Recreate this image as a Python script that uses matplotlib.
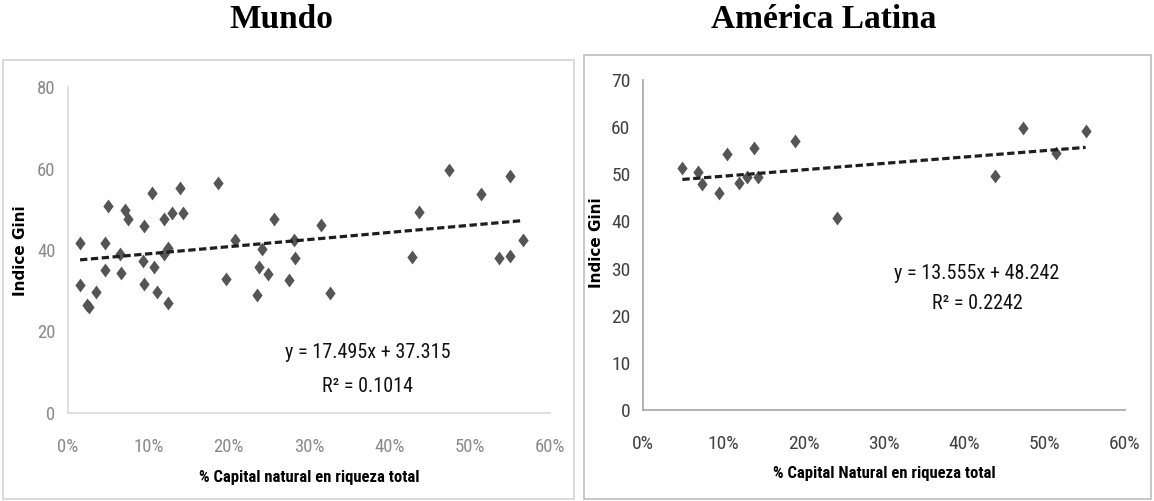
import numpy as np
import matplotlib
matplotlib.use("Agg")
import matplotlib.pyplot as plt
from matplotlib.patches import Rectangle
from matplotlib.ticker import FuncFormatter

# Mundo: share of natural capital in total wealth (fraction) vs Gini index
mundo_x = [0.015, 0.015, 0.024, 0.026, 0.035, 0.046, 0.046, 0.050, 0.065, 0.066,
           0.071, 0.075, 0.093, 0.095, 0.095, 0.105, 0.107, 0.111, 0.119, 0.119,
           0.125, 0.125, 0.129, 0.139, 0.143, 0.187, 0.197, 0.208, 0.235, 0.238,
           0.241, 0.249, 0.256, 0.275, 0.281, 0.283, 0.315, 0.326, 0.428, 0.437,
           0.474, 0.514, 0.536, 0.550, 0.550, 0.566]
mundo_y = [41.8, 31.4, 26.5, 25.9, 29.8, 41.8, 35.2, 50.8, 39.0, 34.4,
           49.8, 47.6, 37.3, 46.0, 31.7, 53.9, 35.8, 29.8, 47.5, 38.9,
           40.4, 27.0, 49.2, 55.1, 49.0, 56.5, 33.0, 42.5, 29.0, 35.9,
           40.2, 34.0, 47.5, 32.7, 42.5, 38.0, 46.1, 29.5, 38.2, 49.4,
           59.6, 53.7, 38.0, 58.2, 38.5, 42.5]
mundo_fit = (17.495, 37.315)
mundo_r2 = 0.1014

# América Latina
latam_x = [0.049, 0.068, 0.074, 0.095, 0.104, 0.120, 0.129, 0.138, 0.143,
           0.189, 0.241, 0.438, 0.473, 0.514, 0.551]
latam_y = [51.4, 50.4, 47.9, 46.1, 54.2, 48.1, 49.5, 55.5, 49.4,
           57.0, 40.8, 49.7, 59.8, 54.5, 59.1]
latam_fit = (13.555, 48.242)
latam_r2 = 0.2242

x_ticks = [0, 0.1, 0.2, 0.3, 0.4, 0.5, 0.6]

narrow = ["Liberation Sans Narrow", "Roboto Condensed", "Open Sans Condensed",
          "Roboto", "DejaVu Sans"]
diamond = [(0, 1), (0.74, 0), (0, -1), (-0.74, 0), (0, 1)]

W, H = 1154, 501
fig = plt.figure(figsize=(W / 100, H / 100), dpi=100)

# panel frames
fig.patches.append(Rectangle((3 / W, 2 / H), 571 / W, 439 / H,
                             transform=fig.transFigure, fill=False,
                             edgecolor="#d4d4d4", lw=1.2))
fig.patches.append(Rectangle((584 / W, 2 / H), 567 / W, 444 / H,
                             transform=fig.transFigure, fill=False,
                             edgecolor="#bdbdbd", lw=1.2))


def scatter_panel(ax, xs, ys, fit, r2, ymax, ystep, xlabel, eq_xy, eq_gap,
                  tick_color, spine_color, tick_size, xlab_y, ylab_xy):
    ax.plot(xs, ys, linestyle="none", marker=diamond, markersize=10,
            color="#555555", markeredgewidth=0)
    a, b = fit
    xl = np.array([min(xs), max(xs)])
    ax.plot(xl, a * xl + b, color="#1e1e1e", lw=2.3, dashes=(2.3, 1.1))
    ax.set_xlim(0, 0.6)
    ax.set_ylim(0, ymax)
    ax.set_xticks(x_ticks)
    ax.set_yticks(np.arange(0, ymax + 1, ystep))
    ax.xaxis.set_major_formatter(FuncFormatter(lambda v, p: f"{v * 100:.0f}%"))
    for s in ["top", "right"]:
        ax.spines[s].set_visible(False)
    for s in ["left", "bottom"]:
        ax.spines[s].set_color(spine_color)
        ax.spines[s].set_linewidth(1.2)
    ax.tick_params(length=0, colors=tick_color, labelsize=tick_size)
    ax.tick_params(axis="x", pad=18)
    ax.tick_params(axis="y", pad=9)
    for lab in ax.get_xticklabels() + ax.get_yticklabels():
        lab.set_family(narrow)
    ax.set_xlabel(xlabel, family=narrow, fontweight="bold", fontsize=12,
                  color="black")
    ax.xaxis.set_label_coords(0.5, xlab_y)
    ax.set_ylabel("Indice Gini", family="DejaVu Sans", fontweight="bold",
                  fontsize=11, color="black")
    ax.yaxis.set_label_coords(*ylab_xy)
    ax.text(eq_xy[0], eq_xy[1], f"y = {a:.3f}x + {b:.3f}",
            transform=ax.transAxes, ha="center", va="center", family=narrow,
            fontsize=14.5, color="#111111")
    ax.text(eq_xy[0], eq_xy[1] - eq_gap, f"R² = {r2:.4f}",
            transform=ax.transAxes, ha="center", va="center", family=narrow,
            fontsize=14.5, color="#111111")


ax1 = fig.add_axes([68 / W, 88 / H, 482 / W, 326 / H])
scatter_panel(ax1, mundo_x, mundo_y, mundo_fit, mundo_r2, 80, 20,
              "% Capital natural en riqueza total", (0.622, 0.185), 0.104,
              "#8a8a8a", "#d9d9d9", 13.5, -0.175, (-0.083, 0.497))

ax2 = fig.add_axes([643 / W, 91 / H, 482 / W, 330 / H])
scatter_panel(ax2, latam_x, latam_y, latam_fit, latam_r2, 70, 10,
              "% Capital Natural en riqueza total", (0.693, 0.415), 0.091,
              "#404040", "#a6a6a6", 14, -0.17, (-0.081, 0.506))

fig.text(281 / W, 1 - 28 / H, "Mundo", ha="center", va="baseline",
         family="Liberation Serif", fontweight="bold", fontsize=24)
fig.text(824 / W, 1 - 28 / H, "América Latina", ha="center", va="baseline",
         family="Liberation Serif", fontweight="bold", fontsize=24)

fig.savefig("out.png", dpi=100)
